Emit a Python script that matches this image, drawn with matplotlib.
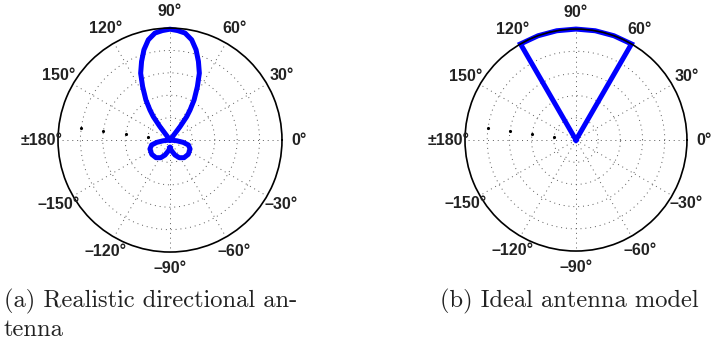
import numpy as np
import matplotlib
matplotlib.use('Agg')
import matplotlib.pyplot as plt

# (a) realistic pattern: angle in degrees, radius 0..1
real_theta = [270, 261, 251.6, 242.3, 231.6, 218, 204, 195, 190, 186, 53,
              53.1, 53.1, 54.5, 56.3, 59, 62.9, 66.3, 70.1, 73.9, 77.8, 82, 86, 90,
              94, 98, 102.2, 106.1, 109.9, 113.7, 117.1, 121, 123.7, 125.5, 126.9, 126.9, 127,
              354, 350, 345, 336, 322, 308.4, 297.7, 288.4, 279, 270]
real_r = [0.069, 0.099, 0.141, 0.178, 0.201, 0.207, 0.196, 0.17, 0.121, 0.06, 0.0,
          0.075, 0.149, 0.257, 0.323, 0.418, 0.537, 0.652, 0.746, 0.839, 0.916, 0.965, 0.98, 0.99,
          0.98, 0.965, 0.916, 0.839, 0.746, 0.652, 0.537, 0.418, 0.323, 0.257, 0.149, 0.075, 0.0,
          0.06, 0.121, 0.17, 0.196, 0.207, 0.201, 0.178, 0.141, 0.099, 0.069]

# (b) ideal sector model
ideal_theta = [60, 60, 70, 80, 90, 100, 110, 120, 120]
ideal_r = [0, 1, 1, 1, 1, 1, 1, 1, 0]

tick_angles = [0, 30, 60, 90, 120, 150, 180, 210, 240, 270, 300, 330]
tick_labels = ['0°', '30°', '60°', '90°', '120°', '150°', '±180°',
               '–150°', '–120°', '–90°', '–60°', '–30°']
ring_r = [0.2, 0.4, 0.6, 0.8]
caption_a = ['(a) Realistic directional an-', 'tenna']
caption_b = '(b) Ideal antenna model'


def setup_polar(ax):
    ax.set_theta_zero_location('E')
    ax.set_ylim(0, 1)
    ax.set_thetagrids(tick_angles, labels=[''] * len(tick_angles))
    ax.set_rgrids(ring_r, labels=[''] * len(ring_r))
    ax.grid(True, color='0.35', linewidth=0.7, linestyle=(0, (1, 4)))
    ax.spines['polar'].set_color('k')
    ax.spines['polar'].set_linewidth(1.2)
    ax.tick_params(length=0)
    for a, lab in zip(tick_angles, tick_labels):
        ax.text(np.deg2rad(a), 1.15, lab, ha='center', va='center',
                fontsize=11.5, fontweight='bold', family='Liberation Sans',
                color='#222222', clip_on=False)
    # stray radial label dots near the 180 spoke
    ax.plot(np.deg2rad([172] * len(ring_r)), ring_r, 'k.', ms=2.5)


fig = plt.figure(figsize=(7.11, 3.42), dpi=100)
ax1 = fig.add_axes([0.0816, 0.263, 0.315, 0.655], projection='polar')
ax2 = fig.add_axes([0.654, 0.266, 0.3122, 0.649], projection='polar')

setup_polar(ax1)
setup_polar(ax2)

ax1.plot(np.deg2rad(real_theta), real_r, color='#0000ff', lw=3.6,
         solid_joinstyle='round', clip_on=False)
ax2.plot(np.deg2rad(ideal_theta), ideal_r, color='#0000ff', lw=3.6,
         solid_joinstyle='miter', clip_on=False)

cap = dict(family='cmr10', fontsize=17.6, va='baseline', ha='left', color='#222222')
fig.text(0.005, 0.1023, caption_a[0], **cap)
fig.text(0.005, 0.0175, caption_a[1], **cap)
fig.text(0.619, 0.1023, caption_b, **cap)

fig.savefig('out.png', dpi=100)
